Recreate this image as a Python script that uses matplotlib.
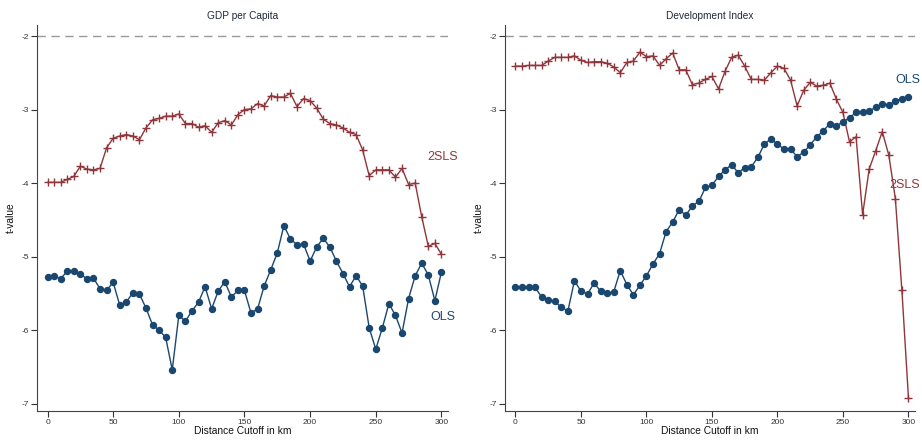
import numpy as np
import matplotlib.pyplot as plt

plt.rcParams['font.family'] = ['Liberation Sans', 'DejaVu Sans']

# distance cutoffs (km)
dist = list(range(0, 301, 5))

# GDP per capita panel
gdp_2sls = [-3.99, -3.99, -3.99, -3.95, -3.91, -3.77, -3.81, -3.82, -3.80, -3.52,
            -3.39, -3.36, -3.34, -3.36, -3.41, -3.25, -3.14, -3.12, -3.09, -3.09,
            -3.06, -3.19, -3.19, -3.24, -3.22, -3.31, -3.18, -3.15, -3.21, -3.07,
            -3.00, -2.99, -2.92, -2.95, -2.81, -2.83, -2.83, -2.78, -2.96, -2.85,
            -2.88, -2.98, -3.13, -3.19, -3.21, -3.25, -3.31, -3.34, -3.55, -3.90,
            -3.82, -3.82, -3.82, -3.92, -3.80, -4.02, -4.00, -4.46, -4.86, -4.82,
            -4.97]
gdp_ols = [-5.28, -5.27, -5.30, -5.20, -5.20, -5.24, -5.30, -5.29, -5.44, -5.46,
           -5.35, -5.66, -5.62, -5.49, -5.51, -5.70, -5.93, -6.00, -6.10, -6.54,
           -5.80, -5.88, -5.74, -5.62, -5.41, -5.71, -5.47, -5.34, -5.55, -5.46,
           -5.46, -5.77, -5.71, -5.40, -5.18, -4.95, -4.58, -4.76, -4.84, -4.83,
           -5.06, -4.87, -4.75, -4.87, -5.06, -5.23, -5.41, -5.26, -5.40, -5.97,
           -6.26, -5.97, -5.64, -5.80, -6.04, -5.57, -5.26, -5.09, -5.25, -5.60,
           -5.21]

# Development index panel
dev_2sls = [-2.41, -2.41, -2.40, -2.40, -2.40, -2.34, -2.29, -2.29, -2.29, -2.27,
            -2.33, -2.36, -2.35, -2.35, -2.37, -2.42, -2.50, -2.36, -2.34, -2.22,
            -2.28, -2.27, -2.40, -2.31, -2.23, -2.46, -2.46, -2.66, -2.64, -2.59,
            -2.55, -2.72, -2.48, -2.29, -2.26, -2.41, -2.59, -2.59, -2.60, -2.50,
            -2.41, -2.44, -2.60, -2.95, -2.74, -2.63, -2.68, -2.67, -2.64, -2.86,
            -3.04, -3.44, -3.37, -4.43, -3.81, -3.56, -3.30, -3.62, -4.21, -5.46,
            -6.92]
dev_ols = [-5.41, -5.41, -5.42, -5.42, -5.55, -5.59, -5.61, -5.69, -5.74, -5.33,
           -5.47, -5.51, -5.36, -5.47, -5.50, -5.48, -5.19, -5.38, -5.52, -5.39,
           -5.26, -5.10, -4.96, -4.66, -4.53, -4.36, -4.44, -4.31, -4.25, -4.06,
           -4.03, -3.91, -3.82, -3.75, -3.86, -3.79, -3.78, -3.65, -3.47, -3.40,
           -3.47, -3.54, -3.54, -3.64, -3.58, -3.48, -3.37, -3.29, -3.19, -3.22,
           -3.17, -3.11, -3.04, -3.03, -3.02, -2.97, -2.93, -2.94, -2.88, -2.85,
           -2.83]

titles = ['GDP per Capita', 'Development Index']
NAVY = '#1a476f'
MAROON = '#90353b'
TXT = '#1e2a3a'

fig = plt.figure(figsize=(9.22, 4.43), dpi=100)
ax1 = fig.add_axes([37/922, 1-411/443, (448-37)/922, (411-25)/443])
ax2 = fig.add_axes([505/922, 1-411/443, (915-505)/922, (411-25)/443])

# label anchors: (x, y, ha)
panels = [(ax1, gdp_2sls, gdp_ols, (301, -3.65, 'center'), (301, -5.82, 'center')),
          (ax2, dev_2sls, dev_ols, (309, -4.02, 'right'), (309, -2.6, 'right'))]

for k, (ax, s2, ols, lab2, labo) in enumerate(panels):
    ax.axhline(-2, color='#999999', lw=1.0, ls=(0, (6, 4)), zorder=1)
    ax.plot(dist, s2, color=MAROON, lw=1.0, marker='+', ms=6, mew=1.0, zorder=3)
    ax.plot(dist, ols, color=NAVY, lw=1.0, marker='o', ms=4.3, zorder=3)
    ax.text(lab2[0], lab2[1], '2SLS', color=MAROON, fontsize=9, clip_on=False,
            ha=lab2[2], va='center')
    ax.text(labo[0], labo[1], 'OLS', color=NAVY, fontsize=9, clip_on=False,
            ha=labo[2], va='center')
    ax.set_xlim(-8, 305)
    ax.set_ylim(-7.1, -1.85)
    ax.set_xticks([0, 50, 100, 150, 200, 250, 300])
    ax.set_yticks([-7, -6, -5, -4, -3, -2])
    ax.set_yticklabels(['-7', '-6', '-5', '-4', '-3', '-2'])
    ax.tick_params(labelsize=6, color='#333333', length=4, width=0.8,
                   labelcolor='#333333', pad=2)
    ax.spines['right'].set_visible(False)
    ax.spines['top'].set_visible(False)
    ax.spines['left'].set_color('#444444')
    ax.spines['bottom'].set_color('#444444')
    ax.set_title(titles[k], fontsize=7.3, color=TXT, pad=4)
    ax.set_xlabel('Distance Cutoff in km', fontsize=7.4, color='#111111', labelpad=0)
    ax.set_ylabel('t-value', fontsize=7.4, color='#111111', labelpad=4)

plt.savefig('out.png', dpi=100)
